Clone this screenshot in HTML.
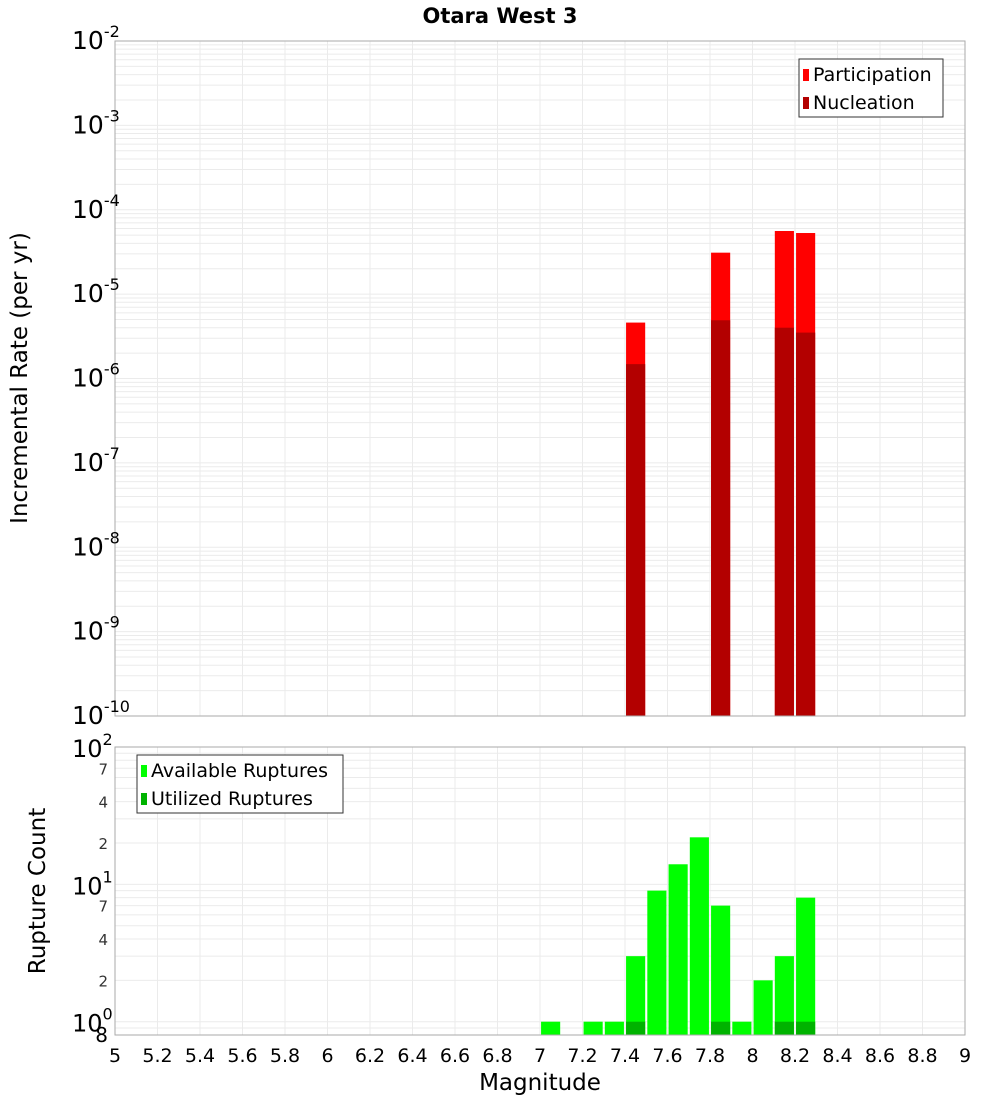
<!DOCTYPE html>
<html><head><meta charset="utf-8"><style>body{margin:0;background:#fff}svg{display:block;font-family:"DejaVu Sans","Liberation Sans",sans-serif}</style></head>
<body>
<svg id="c" width="1000" height="1100" xmlns="http://www.w3.org/2000/svg">
<text x="500" y="23" text-anchor="middle" font-size="21" font-weight="bold">Otara West 3</text>
<text transform="translate(27,378) rotate(-90)" text-anchor="middle" font-size="23">Incremental Rate (per yr)</text>
<text transform="translate(45,891) rotate(-90)" text-anchor="middle" font-size="23">Rupture Count</text>
<text x="540" y="1090" text-anchor="middle" font-size="23">Magnitude</text>
<g id="g"></g>
</svg>
<script>
const mags=[7.05,7.25,7.35,7.45,7.55,7.65,7.75,7.85,7.95,8.05,8.15,8.25];
const partMags=[7.45,7.85,8.15,8.25];
const participation=[4.6e-6,3.1e-5,5.6e-5,5.3e-5];
const nucleation=[1.48e-6,4.9e-6,4.0e-6,3.5e-6];
const available=[1,1,1,3,9,14,22,7,1,2,3,8];
const utilMags=[7.45,7.85,8.15,8.25];
const utilized=[1,1,1,1];
const xTicks=[5,5.2,5.4,5.6,5.8,6,6.2,6.4,6.6,6.8,7,7.2,7.4,7.6,7.8,8,8.2,8.4,8.6,8.8,9];
const topExps=[-10,-9,-8,-7,-6,-5,-4,-3,-2];
const botMinor=[2,4,7,20,40,70];

const NS='http://www.w3.org/2000/svg',G=document.getElementById('g');
function el(t,a,txt){const e=document.createElementNS(NS,t);for(const k in a)e.setAttribute(k,a[k]);if(txt!==undefined)e.textContent=txt;G.appendChild(e);return e;}
const L=115,R=965,T1=41,B1=716,T2=747,B2=1035;
const X=m=>L+(m-5)/4*(R-L);
const Y1=v=>B1-(Math.log10(v)+10)/8*(B1-T1);
const bmin=Math.log10(0.8),bmax=2;
const Y2=v=>B2-(Math.log10(v)-bmin)/(bmax-bmin)*(B2-T2);
const bw=X(5.09)-X(5);

xTicks.forEach(t=>{[[T1,B1],[T2,B2]].forEach(([a,b])=>{const e=el('line',{x1:X(t),x2:X(t),y1:a,y2:b,stroke:'#ebebeb'});});});
for(let e=-10;e<-2;e++)for(let k=1;k<10;k++){const y=Y1(k*Math.pow(10,e));const l=el('line',{x1:L,x2:R,y1:y,y2:y,stroke:'#ebebeb'});}
for(let e=-1;e<2;e++)for(let k=1;k<10;k++){const v=k*Math.pow(10,e);if(v<0.8)continue;const y=Y2(v);const l=el('line',{x1:L,x2:R,y1:y,y2:y,stroke:'#ebebeb'});}

partMags.forEach((m,i)=>{
 let r=el('rect',{x:X(m)-bw/2,y:Y1(participation[i]),width:bw,height:B1-Y1(participation[i]),fill:'#ff0000'});
 
 r=el('rect',{x:X(m)-bw/2,y:Y1(nucleation[i]),width:bw,height:B1-Y1(nucleation[i]),fill:'#b30000'});
 
});
mags.forEach((m,i)=>{const r=el('rect',{x:X(m)-bw/2,y:Y2(available[i]),width:bw,height:B2-Y2(available[i]),fill:'#00ff00'});
 });
utilMags.forEach((m,i)=>{const r=el('rect',{x:X(m)-bw/2,y:Y2(utilized[i]),width:bw,height:B2-Y2(utilized[i]),fill:'#00b300'});
 });

[[T1,B1],[T2,B2]].forEach(([a,b])=>{const r=el('rect',{x:L,y:a,width:R-L,height:b-a,fill:'none',stroke:'#aaa'});});

xTicks.forEach(t=>{const s=el('text',{x:X(t),y:1062,'text-anchor':'middle','font-size':19},String(t));});
topExps.forEach(e=>{const y=Y1(Math.pow(10,e));const t=el('text',{x:72,y:y+8,'font-size':25});
 
 t.textContent='10';const sp=document.createElementNS(NS,'tspan');sp.setAttribute('dy','-12');sp.setAttribute('font-size','16');sp.textContent=String(e);t.appendChild(sp);});
[0,1,2].forEach(e=>{const y=Y2(Math.pow(10,e));const t=el('text',{x:72,y:y+10,'font-size':24});
 
 t.textContent='10';const sp=document.createElementNS(NS,'tspan');sp.setAttribute('dy','-12');sp.setAttribute('font-size','16');sp.textContent=String(e);t.appendChild(sp);});
botMinor.forEach(v=>{const t=el('text',{x:108,y:Y2(v)+6,'text-anchor':'end','font-size':15,fill:'#333'},String(v).charAt(0));});
{const t=el('text',{x:108,y:1042,'text-anchor':'end','font-size':20},'8');}

function legend(x,y,w,items,nm){const b=el('rect',{x:x,y:y,width:w,height:58,fill:'#fff',stroke:'#333'});
 items.forEach((it,i)=>{const s=el('rect',{x:x+4,y:y+10+i*28,width:6,height:12,fill:it[1]});
 const t=el('text',{x:x+14,y:y+22+i*28,'font-size':19},it[0]);});}
legend(799,59,144,[['Participation','#ff0000'],['Nucleation','#b30000']],'top-legend');
legend(137,755,206,[['Available Ruptures','#00ff00'],['Utilized Ruptures','#00b300']],'bottom-legend');
</script>
</body></html>
